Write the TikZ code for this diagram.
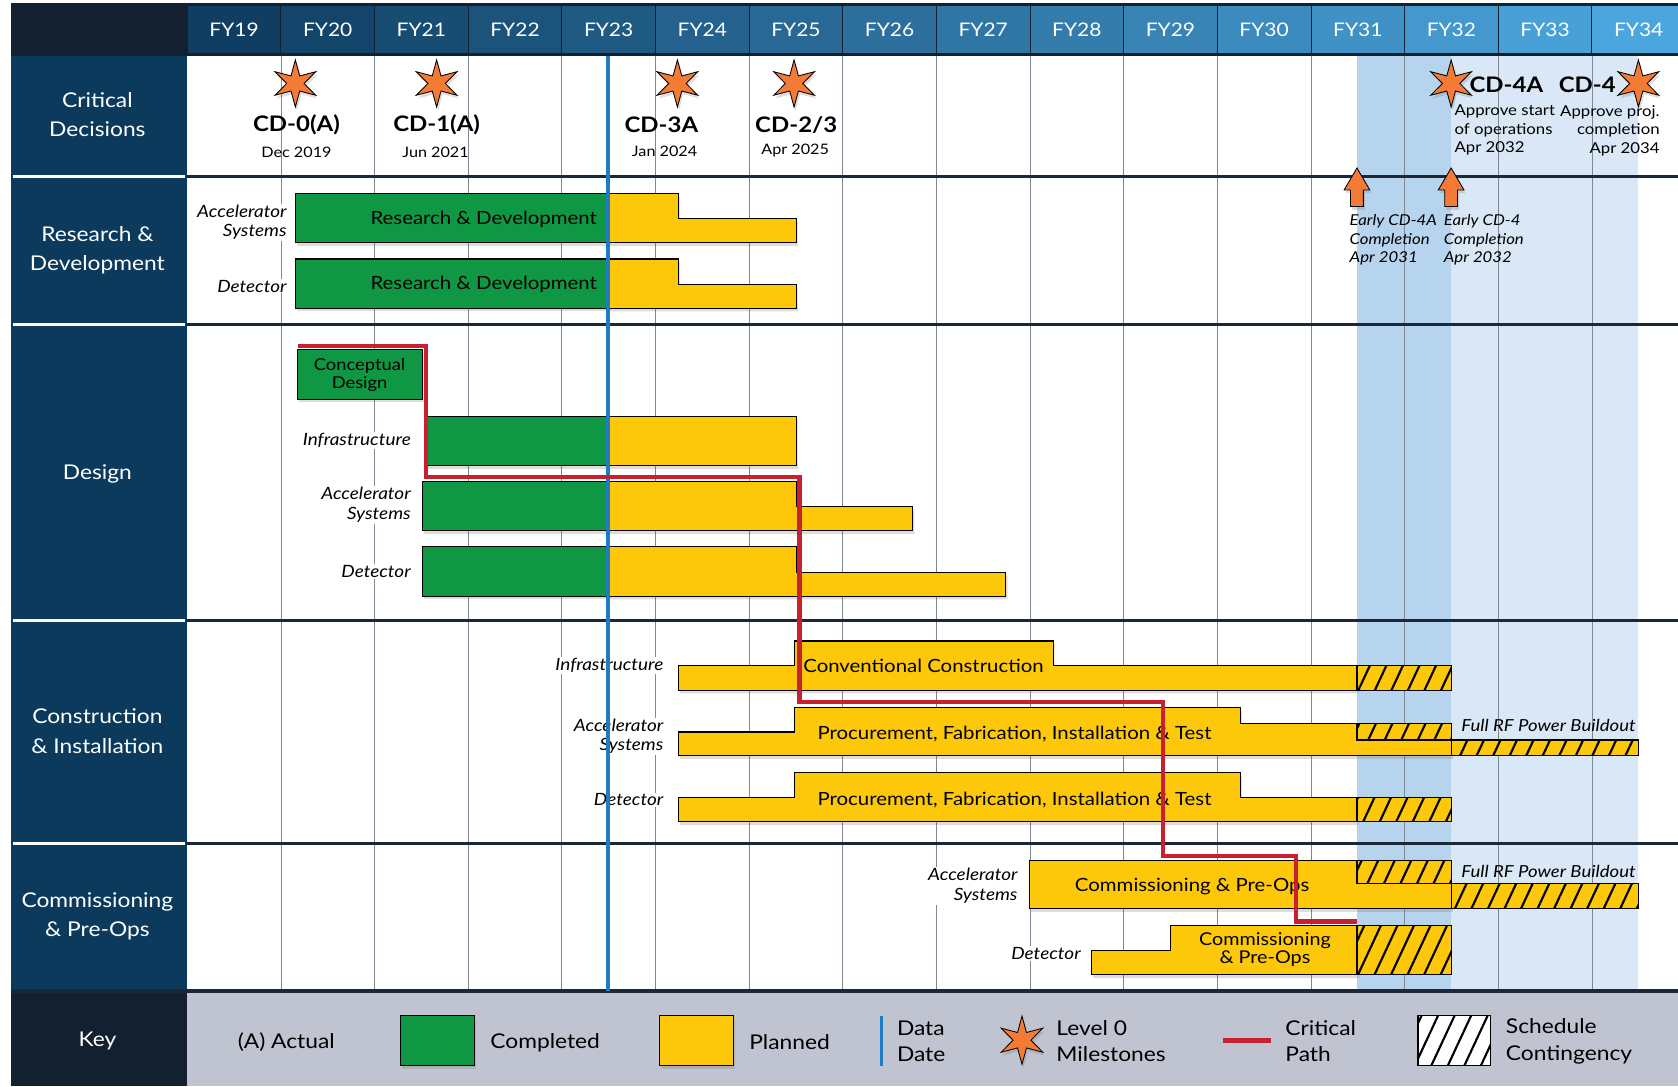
\documentclass[tikz,border=0pt]{standalone}
\usepackage{fontspec}
\setmainfont{Lato}[FakeStretch=1.12]
\usetikzlibrary{shapes.geometric}
\usetikzlibrary{shadows}
\usetikzlibrary{patterns.meta}

\definecolor{cdgreen}{HTML}{0F9744}
\definecolor{cdyellow}{HTML}{FDC80A}
\definecolor{cdorange}{HTML}{F47B35}
\definecolor{cdred}{HTML}{C8202E}
\definecolor{cdblue}{HTML}{1F7BC4}
\definecolor{navy}{HTML}{0B3A5C}
\definecolor{ink}{HTML}{13202F}
\definecolor{keygray}{HTML}{C0C4D0}
\definecolor{hdrlo}{HTML}{0F3E62}
\definecolor{hdrhi}{HTML}{4CA6DE}
\definecolor{bandA}{HTML}{B6D4EE}
\definecolor{bandB}{HTML}{D9E7F6}
\definecolor{gridgray}{HTML}{7D8895}
\definecolor{rowline}{HTML}{1B2838}

\tikzset{
  barshadow/.style={drop shadow={shadow xshift=1.5pt,shadow yshift=-3pt,opacity=0.22,fill=black!60}},
  donebar/.style={barshadow,fill=cdgreen,draw=black,line width=1pt},
  planbar/.style={barshadow,fill=cdyellow,draw=black,line width=1pt},
  sparebar/.style={preaction={fill=cdyellow},pattern={Lines[angle=65,distance=14pt,line width=2pt]},draw=black,line width=1pt},
  mstar/.style={star,star points=6,star point ratio=2.7,minimum size=44pt,inner sep=0pt,
    fill=cdorange,draw=black,line width=0.8pt,barshadow},
  marrow/.style={fill=cdorange,draw=black,line width=0.8pt,barshadow},
  gridline/.style={gridgray,line width=0.7pt},
  rowrule/.style={rowline,line width=2.5pt},
  critpath/.style={cdred,line width=4pt,line join=miter},
  datadate/.style={cdblue,line width=3.5pt},
  yrlbl/.style={text=white,font=\fontsize{17.5}{20}\selectfont},
  rowname/.style={text=white,align=center,font=\fontsize{19}{27.5}\selectfont},
  barlbl/.style={align=center,font=\fontsize{17}{17}\selectfont},
  sidelbl/.style={anchor=east,align=right,fill=white,inner xsep=2pt,inner ysep=1pt,
    font=\itshape\fontsize{15.8}{18.5}\selectfont},
  rflbl/.style={font=\itshape\fontsize{15.5}{16}\selectfont},
  cdname/.style={font=\bfseries\fontsize{20}{22}\selectfont},
  cddate/.style={font=\fontsize{13.5}{16}\selectfont},
  cdnote/.style={font=\fontsize{14}{17.3}\selectfont},
  keytxt/.style={anchor=west,align=left,font=\fontsize{19}{24.5}\selectfont}
}

\begin{document}
\begin{tikzpicture}[x=1pt,y=-1pt,every node/.style={inner sep=0pt}]
  % Constants
  \pgfmathsetmacro\xo{175}
  \pgfmathsetmacro\w{87.5}
  % Boundary
  \path[use as bounding box] (0,0) rectangle (1568,1015);
  % Contingency bands
  \fill[bandA] (1268,52) rectangle (1356,926);
  \fill[bandB] (1356,52) rectangle (1531,926);
  % Year grid
  \foreach \k in {1,...,15}
    \draw[gridline] ({\xo+\k*\w},52) -- ({\xo+\k*\w},926);
  % Row rules
  \foreach \r in {165,303,580,788}
    \draw[rowrule] (\xo,\r) -- (1568,\r);
  % Header
  \fill[ink] (10,3) rectangle (1568,52);
  \foreach \i in {0,...,15} {
    \pgfmathtruncatemacro\fy{19+\i}
    \pgfmathtruncatemacro\mix{100-\i*100/15}
    \filldraw[fill=hdrlo!\mix!hdrhi,draw=ink,line width=0.8pt] ({\xo+\i*\w},5) rectangle ({\xo+(\i+1)*\w},50);
    \node[yrlbl] (fy\fy) at ({\xo+(\i+0.5)*\w},28) {FY\fy};
  }
  % Side column
  \fill[navy] (10,52) rectangle (\xo,926);
  \foreach \r in {165,303,580,788}
    \draw[white,line width=3pt] (12,\r) -- (173,\r);
  \node[rowname] (crit) at (91,107) {Critical\\Decisions};
  \node[rowname] (rnd) at (91,234) {Research \&\\Development};
  \node[rowname] (dsgn) at (91,443) {Design};
  \node[rowname] (cons) at (91,683) {Construction\\\& Installation};
  \node[rowname] (comm) at (91,856) {Commissioning\\\& Pre-Ops};
  % Key row
  \fill[ink] (10,926) rectangle (\xo,1015);
  \fill[keygray] (\xo,926) rectangle (1568,1015);
  \draw[rowrule,line width=3pt] (10,926) -- (1568,926);

  % R&D bars
  \draw[donebar] (276,181) rectangle (568,227);
  \draw[planbar] (568,181) -- (634,181) -- (634,204) -- (744,204) -- (744,227) -- (568,227) -- cycle;
  \draw[donebar] (276,242) rectangle (568,288);
  \draw[planbar] (568,242) -- (634,242) -- (634,266) -- (744,266) -- (744,288) -- (568,288) -- cycle;
  \node[barlbl] (rndacc) at (452,205) {Research \& Development};
  \node[barlbl] (rnddet) at (452,266) {Research \& Development};
  \node[sidelbl] (rndaccl) at (270,207.6) {Accelerator\\Systems};
  \node[sidelbl] (rnddetl) at (270,267.5) {Detector};

  % Design bars
  \draw[donebar] (278,327) rectangle (395,373);
  \node[barlbl,font=\fontsize{15.3}{17}\selectfont] (concept) at (336,350) {Conceptual\\Design};
  \draw[donebar] (397,389) rectangle (568,435);
  \draw[planbar] (568,389) rectangle (744,435);
  \draw[donebar] (395,450) rectangle (568,496);
  \draw[planbar] (568,450) -- (744,450) -- (744,473) -- (853,473) -- (853,496) -- (568,496) -- cycle;
  \draw[donebar] (395,511) rectangle (568,557);
  \draw[planbar] (568,511) -- (744,511) -- (744,535) -- (940,535) -- (940,557) -- (568,557) -- cycle;
  \node[sidelbl] (dinfl) at (386,411.8) {Infrastructure};
  \node[sidelbl] (daccl) at (386,472) {Accelerator\\Systems};
  \node[sidelbl] (ddetl) at (386,534) {Detector};

  % Construction bars
  \draw[planbar] (634,622) -- (742,622) -- (742,599) -- (984,599) -- (984,622) -- (1268,622)
    -- (1268,645) -- (634,645) -- cycle;
  \draw[sparebar] (1268,622) rectangle (1356,645);
  \draw[planbar] (634,684) -- (742,684) -- (742,661) -- (1159,661) -- (1159,676) -- (1268,676)
    -- (1268,691.5) -- (1356,691.5) -- (1356,706) -- (634,706) -- cycle;
  \draw[sparebar] (1268,676) rectangle (1356,691.5);
  \draw[sparebar] (1356,691.5) rectangle (1531,706);
  \draw[planbar] (634,745) -- (742,745) -- (742,722) -- (1159,722) -- (1159,745) -- (1268,745)
    -- (1268,768) -- (634,768) -- cycle;
  \draw[sparebar] (1268,745) rectangle (1356,768);
  \node[barlbl] (conv) at (863,622) {Conventional Construction};
  \node[barlbl] (pfacc) at (948,686) {Procurement, Fabrication, Installation \& Test};
  \node[barlbl] (pfdet) at (948,747.5) {Procurement, Fabrication, Installation \& Test};
  \node[rflbl] (rfcons) at (1447,678) {Full RF Power Buildout};
  \node[sidelbl] (cinfl) at (622,622) {Infrastructure};
  \node[sidelbl] (caccl) at (622,688) {Accelerator\\Systems};
  \node[sidelbl] (cdetl) at (622,747.5) {Detector};

  % Commissioning bars
  \draw[planbar] (962,804) -- (1268,804) -- (1268,826) -- (1356,826) -- (1356,849) -- (962,849) -- cycle;
  \draw[sparebar] (1268,804) rectangle (1356,826);
  \draw[sparebar] (1356,826) rectangle (1531,849);
  \draw[planbar] (1020,888) -- (1094,888) -- (1094,865) -- (1268,865) -- (1268,911) -- (1020,911) -- cycle;
  \draw[sparebar] (1268,865) rectangle (1356,911);
  \node[barlbl] (cpacc) at (1114,828) {Commissioning \& Pre-Ops};
  \node[barlbl,font=\fontsize{16.5}{17}\selectfont] (cpdet) at (1182,887) {Commissioning\\\& Pre-Ops};
  \node[rflbl] (rfcomm) at (1447,814) {Full RF Power Buildout};
  \node[sidelbl] (paccl) at (953,828) {Accelerator\\Systems};
  \node[sidelbl] (pdetl) at (1012,891) {Detector};

  % Data date and critical path
  \draw[datadate] (568,52) -- (568,926);
  \draw[critpath] (278,323) -- (398,323) -- (398,446) -- (747,446) -- (747,656) -- (1087,656)
    -- (1087,800) -- (1211,800) -- (1211,861) -- (1268,861);

  % Critical decisions
  \node[mstar] (cd0) at (276,78) {};
  \node[cdname] (cd0name) at (277,117) {CD-0(A)};
  \node[cddate] (cd0date) at (277,142) {Dec 2019};
  \node[mstar] (cd1) at (408,78) {};
  \node[cdname] (cd1name) at (408,117) {CD-1(A)};
  \node[cddate] (cd1date) at (407,142) {Jun 2021};
  \node[mstar] (cd3a) at (633,78) {};
  \node[cdname] (cd3aname) at (618,117) {CD-3A};
  \node[cddate] (cd3adate) at (621,141) {Jan 2024};
  \node[mstar] (cd23) at (742,78) {};
  \node[cdname] (cd23name) at (744,117) {CD-2/3};
  \node[cddate] (cd23date) at (743,141) {Apr 2025};
  \node[mstar] (cd4a) at (1356,78) {};
  \node[cdname,anchor=west] (cd4aname) at (1373,79) {CD-4A};
  \node[cdnote,anchor=north west,align=left] (cd4anote) at (1359,98) {Approve start\\of operations\\Apr 2032};
  \node[mstar] (cd4) at (1531,78) {};
  \node[cdname,anchor=east] (cd4name) at (1510,79) {CD-4};
  \node[cdnote,anchor=north east,align=right] (cd4note) at (1551,98) {Approve proj.\\completion\\Apr 2034};

  % Early completion arrows
  \foreach \ax in {1268,1356}
    \draw[marrow] (\ax,157) -- (\ax+12,177.5) -- (\ax+6,177.5) -- (\ax+6,193)
      -- (\ax-6,193) -- (\ax-6,177.5) -- (\ax-12,177.5) -- cycle;
  \node[cdnote,font=\itshape\fontsize{14}{17.5}\selectfont,anchor=north west,align=left] (early4a) at (1261,200) {Early CD-4A\\Completion\\Apr 2031};
  \node[cdnote,font=\itshape\fontsize{14}{17.5}\selectfont,anchor=north west,align=left] (early4) at (1349,200) {Early CD-4\\Completion\\Apr 2032};

  % Key
  \node[rowname] (key) at (91,973) {Key};
  \node[keytxt] (keyact) at (222,974) {(A) Actual};
  \draw[donebar] (374,949) rectangle (443,996);
  \node[keytxt] (keydone) at (458,974) {Completed};
  \draw[planbar] (616,949) rectangle (685,996);
  \node[keytxt] (keyplan) at (700,974) {Planned};
  \draw[cdblue,line width=3pt] (824,949) -- (824,996);
  \node[keytxt] (keydate) at (838,973) {Data\\Date};
  \node[mstar,minimum size=45pt] (keystar) at (955,972) {};
  \node[keytxt] (keymile) at (987,973) {Level 0\\Milestones};
  \draw[cdred,line width=5pt] (1143,972) -- (1188,972);
  \node[keytxt] (keypath) at (1201,973) {Critical\\Path};
  \draw[preaction={fill=white},pattern={Lines[angle=65,distance=14pt,line width=2pt]},draw=black,line width=1pt]
    (1325,949) rectangle (1393,996);
  \node[keytxt] (keyspare) at (1407,973) {Schedule\\Contingency};
\end{tikzpicture}
\end{document}
